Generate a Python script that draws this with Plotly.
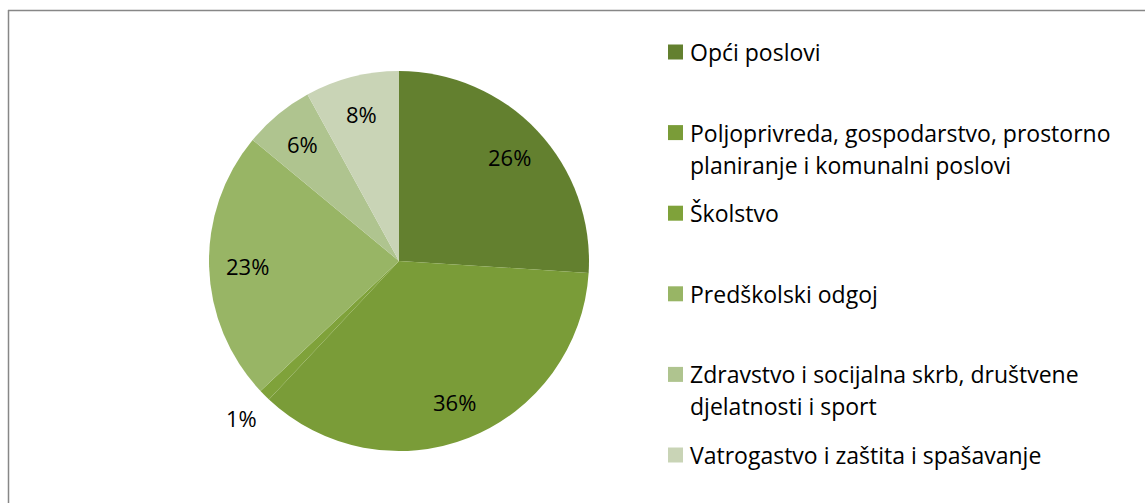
import math
import plotly.graph_objects as go

categories = [
    "Opći poslovi",
    "Poljoprivreda, gospodarstvo, prostorno<br>planiranje i komunalni poslovi",
    "Školstvo",
    "Predškolski odgoj",
    "Zdravstvo i socijalna skrb, društvene<br>djelatnosti i sport",
    "Vatrogastvo i zaštita i spašavanje",
]
values = [26, 36, 1, 23, 6, 8]
labels_pct = ["26%", "36%", "1%", "23%", "6%", "8%"]
label_outside = [False, False, True, False, False, False]
colors = ["#63802f", "#7a9c38", "#7fa23a", "#98b565", "#afc48f", "#c9d4b6"]

W, H = 1145, 503
CX, CY, R = 399, 261, 190
FONT = "Open Sans"
FS_LEG = 23
FS_LAB = 22

fig = go.Figure()
fig.add_trace(go.Pie(
    labels=[c.replace("<br>", " ") for c in categories],
    values=values,
    sort=False,
    direction="clockwise",
    rotation=0,
    marker=dict(colors=colors, line=dict(width=0)),
    textinfo="none",
    hoverinfo="label+percent",
    showlegend=False,
    domain=dict(x=[(CX - R) / W, (CX + R) / W], y=[1 - (CY + R) / H, 1 - (CY - R) / H]),
))

annotations = []
shapes = []

# slice labels, positioned along each slice's mid-angle
total = sum(values)
cum = 0
for v, t, out in zip(values, labels_pct, label_outside):
    mid = (cum + v / 2) / total * 2 * math.pi
    cum += v
    r = R * (1.17 if out else 0.8)
    px = CX + r * math.sin(mid)
    py = CY - r * math.cos(mid)
    annotations.append(dict(
        x=px / W, y=1 - py / H, xref="paper", yref="paper",
        text=t, showarrow=False, xanchor="center", yanchor="middle",
        font=dict(family=FONT, size=FS_LAB, color="#000000"),
    ))

# legend
LEG_X_SQ, LEG_X_TXT = 668, 688
LEG_Y0, LEG_STEP, LINE_STEP = 52, 80.6, 32
SQ = 15
for i, (cat, col) in enumerate(zip(categories, colors)):
    yc = LEG_Y0 + i * LEG_STEP
    shapes.append(dict(
        type="rect", xref="paper", yref="paper",
        x0=LEG_X_SQ / W, x1=(LEG_X_SQ + SQ) / W,
        y0=1 - (yc + SQ / 2) / H, y1=1 - (yc - SQ / 2) / H,
        fillcolor=col, line=dict(width=0),
    ))
    for k, line in enumerate(cat.split("<br>")):
        annotations.append(dict(
            x=LEG_X_TXT / W, y=1 - (yc + k * LINE_STEP) / H, xref="paper", yref="paper",
            text=line, showarrow=False, xanchor="left", yanchor="middle",
            font=dict(family=FONT, size=FS_LEG, color="#000000"),
        ))

# chart-area border (top and left visible)
shapes.append(dict(type="line", xref="paper", yref="paper",
                   x0=8 / W, x1=1.0, y0=1 - 10.5 / H, y1=1 - 10.5 / H,
                   line=dict(color="#878787", width=1.5)))
shapes.append(dict(type="line", xref="paper", yref="paper",
                   x0=8.5 / W, x1=8.5 / W, y0=0, y1=1 - 10 / H,
                   line=dict(color="#878787", width=1.5)))

fig.update_layout(
    width=W, height=H,
    margin=dict(l=0, r=0, t=0, b=0),
    paper_bgcolor="white",
    plot_bgcolor="white",
    annotations=annotations,
    shapes=shapes,
)
fig.write_html(
    "out.html",
    config={"displayModeBar": False},
    post_script="document.body.style.margin='0';document.body.style.overflow='hidden';",
)
